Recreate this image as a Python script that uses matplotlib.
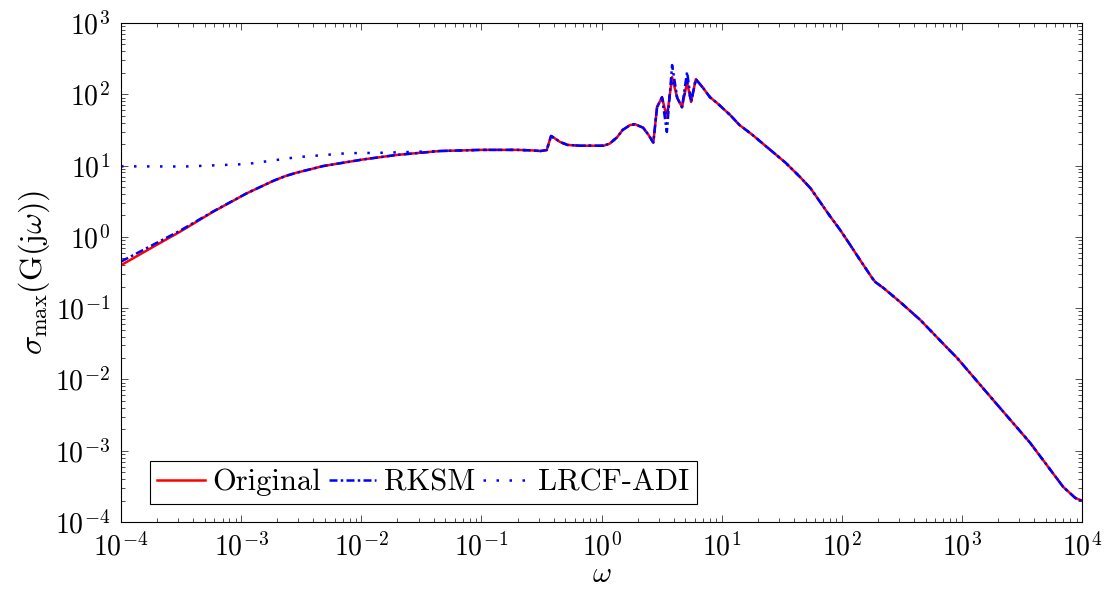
import matplotlib
matplotlib.use('Agg')
import matplotlib.pyplot as plt
from matplotlib.ticker import FixedLocator, NullFormatter

# 字体：尽量接近 pgfplots 的 Computer Modern
plt.rcParams['font.family'] = ['cmr10', 'DejaVu Serif']
plt.rcParams['mathtext.fontset'] = 'cm'
plt.rcParams['axes.formatter.use_mathtext'] = True

# 共用的中高频段（三条曲线在此重合）
omega_tail = [0.1, 0.2, 0.27, 0.31, 0.35, 0.38, 0.41, 0.45, 0.52, 0.66, 1.04,
              1.17, 1.35, 1.5, 1.73, 1.9, 2.22, 2.46, 2.7, 2.9, 3.19, 3.5,
              3.87, 4.27, 4.68, 5.16, 5.57, 6.1, 7.0, 8.0, 9.2, 11.8, 14.1,
              17.8, 25.4, 34, 45, 55, 66, 79, 97, 117, 142, 179, 190, 224,
              306, 450, 755, 913, 1820, 3700, 6970, 8770, 10000]
sigma_tail = [16.6, 16.6, 16.3, 16.0, 16.5, 26, 24, 21.5, 19.5, 19, 19,
              20.3, 25, 31.6, 37, 38, 34, 27, 21, 66, 91, 47,
              174, 89, 66, 148, 78, 163, 123, 91, 75, 51, 37,
              27.5, 16.6, 11.0, 6.9, 4.8, 3.09, 2.0, 1.25, 0.78, 0.474,
              0.265, 0.233, 0.19, 0.122, 0.0684, 0.0277, 0.020, 0.00516,
              0.00129, 0.000311, 0.000218, 0.000198]

# Original 的低频段
omega_orig_low = [1e-4, 2e-4, 3.1e-4, 5.87e-4, 1.11e-3, 1.85e-3, 2.35e-3,
                  2.9e-3, 4.84e-3, 1.04e-2, 1.98e-2, 4.5e-2]
sigma_orig_low = [0.40, 0.78, 1.18, 2.26, 4.07, 6.1, 7.15,
                  7.95, 9.86, 12.2, 14.1, 16.0]

# RKSM 的低频段（在最左端略高于 Original）
omega_rksm_low = [1e-4, 2e-4, 3.1e-4, 5.87e-4, 1.11e-3, 1.85e-3, 2.35e-3,
                  2.9e-3, 4.84e-3, 1.04e-2, 1.98e-2, 4.5e-2]
sigma_rksm_low = [0.45, 0.83, 1.22, 2.28, 4.07, 6.1, 7.15,
                  7.95, 9.86, 12.2, 14.1, 16.0]

# RKSM 在共振峰处的尖峰
rksm_peaks = {3.5: 29.6, 3.87: 257, 5.16: 206}

# LRCF-ADI 的低频段（平台）
omega_adi_low = [1e-4, 3.4e-4, 1.11e-3, 2.9e-3, 7.6e-3, 1.44e-2, 2.5e-2, 4.5e-2]
sigma_adi_low = [9.75, 9.7, 10.5, 13.1, 14.9, 15.1, 15.5, 16.0]

omega_orig = omega_orig_low + omega_tail
sigma_orig = sigma_orig_low + sigma_tail

omega_rksm = omega_rksm_low + omega_tail
sigma_rksm = sigma_rksm_low + [rksm_peaks.get(w, s) for w, s in zip(omega_tail, sigma_tail)]

omega_adi = omega_adi_low + omega_tail
sigma_adi = sigma_adi_low + sigma_tail

fig = plt.figure(figsize=(11.1, 5.9), dpi=100)
ax = fig.add_axes([121 / 1110, 68 / 590, 961 / 1110, 499 / 590])

lw = 1.8
ax.plot(omega_orig, sigma_orig, color='red', lw=lw, label='Original')
ax.plot(omega_rksm, sigma_rksm, color='blue', lw=lw, linestyle=(0, (3.2, 1.3, 1, 1.3)),
        label='RKSM')
ax.plot(omega_adi, sigma_adi, color='blue', lw=lw, linestyle=(0, (1, 4.2)),
        label='LRCF-ADI')

ax.set_xscale('log')
ax.set_yscale('log')
ax.set_xlim(1e-4, 1e4)
ax.set_ylim(1e-4, 1e3)

# 刻度只放在坐标范围内
def set_log_ticks(axis, lo, hi):
    axis.set_major_locator(FixedLocator([10.0 ** e for e in range(lo, hi + 1)]))
    axis.set_minor_locator(FixedLocator([m * 10.0 ** e for e in range(lo, hi)
                                         for m in range(2, 10)]))
    axis.set_minor_formatter(NullFormatter())

set_log_ticks(ax.xaxis, -4, 4)
set_log_ticks(ax.yaxis, -4, 3)

ax.tick_params(which='both', direction='in', top=True, right=True,
               labelsize=20, width=0.6, color='#333333', pad=8)
ax.tick_params(which='major', length=5)
ax.tick_params(which='minor', length=3)
for sp in ax.spines.values():
    sp.set_linewidth(0.8)

ax.set_xlabel(r'$\omega$', fontsize=21, labelpad=0)
ax.set_ylabel(r'$\sigma_{\max}(\mathrm{G}(\mathrm{j}\omega))$', fontsize=23, labelpad=2)

leg = ax.legend(loc='lower left', bbox_to_anchor=(0.030, 0.036), borderaxespad=0,
                ncol=3, fontsize=22, frameon=True, fancybox=False, framealpha=1,
                edgecolor='black', handlelength=1.55, handletextpad=0.25,
                columnspacing=0.25, borderpad=0.25)
leg.get_frame().set_linewidth(0.8)

fig.savefig('out.png', dpi=100)
